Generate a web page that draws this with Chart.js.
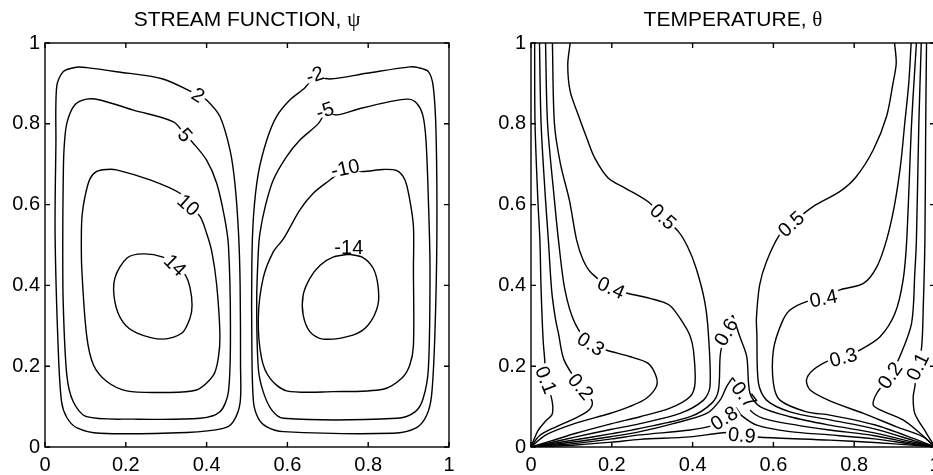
<!DOCTYPE html>
<html>
<head>
<meta charset="utf-8">
<script src="https://cdn.jsdelivr.net/npm/chart.js@4"></script>
<style>
  html, body { margin: 0; padding: 0; background: #fff; overflow: hidden; width: 933px; height: 475px; }
  canvas { position: absolute; top: 0; }
</style>
</head>
<body>
<canvas id="psi" width="466" height="475" style="left:0"></canvas>
<canvas id="theta" width="490" height="475" style="left:466px"></canvas>
<script>
// axis ticks (both panels, both axes)
const tickValues = [0, 0.2, 0.4, 0.6, 0.8, 1];
const tickLabels = ['0', '0.2', '0.4', '0.6', '0.8', '1'];

// stream function contours, [x, y] (loops start under their label)
const psiP2 = [[0.379,0.871],[0.400,0.859],[0.433,0.818],[0.458,0.735],[0.470,0.653],[0.479,0.530],[0.483,0.40],[0.484,0.20],[0.483,0.110],[0.466,0.063],[0.441,0.046],[0.351,0.036],[0.136,0.034],[0.078,0.048],[0.054,0.073],[0.041,0.112],[0.033,0.236],[0.025,0.525],[0.027,0.75],[0.029,0.892],[0.045,0.929],[0.078,0.940],[0.103,0.939],[0.177,0.929],[0.292,0.911],[0.379,0.871]];
const psiP5 = [[0.347,0.772],[0.367,0.752],[0.400,0.710],[0.425,0.653],[0.444,0.570],[0.454,0.500],[0.459,0.30],[0.454,0.137],[0.433,0.087],[0.384,0.071],[0.219,0.069],[0.103,0.075],[0.070,0.112],[0.054,0.178],[0.045,0.360],[0.044,0.525],[0.045,0.65],[0.047,0.735],[0.054,0.801],[0.074,0.847],[0.103,0.861],[0.136,0.859],[0.219,0.834],[0.318,0.805],[0.347,0.772]];
const psiP10 = [[0.355,0.599],[0.384,0.570],[0.400,0.529],[0.413,0.483],[0.425,0.401],[0.433,0.277],[0.429,0.220],[0.417,0.178],[0.375,0.141],[0.285,0.135],[0.202,0.139],[0.153,0.162],[0.120,0.203],[0.103,0.277],[0.091,0.442],[0.090,0.525],[0.092,0.575],[0.099,0.620],[0.111,0.663],[0.128,0.682],[0.153,0.687],[0.177,0.686],[0.260,0.661],[0.334,0.628],[0.355,0.599]];
const psiP14 = [[0.322,0.450],[0.292,0.470],[0.243,0.478],[0.203,0.468],[0.173,0.418],[0.173,0.359],[0.193,0.309],[0.228,0.282],[0.292,0.267],[0.339,0.282],[0.359,0.319],[0.364,0.351],[0.359,0.394],[0.347,0.426],[0.322,0.450]];
const psiN2 = [[0.668,0.921],[0.644,0.890],[0.606,0.859],[0.573,0.818],[0.549,0.760],[0.528,0.677],[0.516,0.570],[0.512,0.45],[0.512,0.25],[0.516,0.112],[0.528,0.071],[0.549,0.050],[0.590,0.038],[0.862,0.034],[0.920,0.048],[0.945,0.079],[0.957,0.129],[0.965,0.277],[0.970,0.525],[0.968,0.776],[0.961,0.892],[0.949,0.929],[0.924,0.939],[0.903,0.941],[0.796,0.925],[0.705,0.911],[0.668,0.921]];
const psiN5 = [[0.693,0.830],[0.677,0.801],[0.631,0.760],[0.598,0.719],[0.565,0.661],[0.545,0.595],[0.532,0.529],[0.528,0.483],[0.524,0.360],[0.528,0.195],[0.540,0.137],[0.561,0.092],[0.590,0.071],[0.871,0.071],[0.916,0.087],[0.936,0.120],[0.949,0.195],[0.953,0.442],[0.949,0.611],[0.943,0.760],[0.935,0.822],[0.920,0.851],[0.899,0.861],[0.854,0.855],[0.780,0.838],[0.722,0.822],[0.693,0.830]];
const psiN10 = [[0.743,0.690],[0.784,0.682],[0.837,0.687],[0.871,0.684],[0.891,0.661],[0.903,0.611],[0.912,0.545],[0.912,0.442],[0.912,0.252],[0.903,0.203],[0.883,0.170],[0.837,0.143],[0.714,0.137],[0.598,0.139],[0.557,0.170],[0.536,0.220],[0.528,0.319],[0.540,0.418],[0.565,0.483],[0.590,0.515],[0.631,0.587],[0.664,0.628],[0.705,0.661],[0.743,0.690]];
const psiN14 = [[0.752,0.477],[0.785,0.470],[0.812,0.443],[0.824,0.401],[0.824,0.351],[0.800,0.302],[0.762,0.277],[0.688,0.267],[0.656,0.285],[0.639,0.327],[0.639,0.376],[0.656,0.418],[0.681,0.450],[0.713,0.470],[0.752,0.477]];

// temperature contours, left and right branches
const theta01L = [[0.009,1.0],[0.010,0.80],[0.017,0.611],[0.022,0.512],[0.025,0.389],[0.030,0.265],[0.034,0.215],[0.037,0.166],[0.050,0.124],[0.054,0.100],[0.052,0.080],[0.037,0.065],[0.017,0.040],[0,0]];
const theta02L = [[0.021,1.0],[0.025,0.80],[0.036,0.611],[0.043,0.512],[0.051,0.389],[0.060,0.320],[0.068,0.281],[0.082,0.215],[0.123,0.149],[0.150,0.116],[0.150,0.100],[0.138,0.087],[0.109,0.071],[0.062,0.050],[0.021,0.028],[0,0]];
const theta03L = [[0.036,1.0],[0.041,0.80],[0.058,0.611],[0.068,0.512],[0.084,0.389],[0.109,0.306],[0.148,0.255],[0.186,0.240],[0.244,0.224],[0.290,0.207],[0.310,0.174],[0.310,0.149],[0.285,0.120],[0.244,0.100],[0.195,0.083],[0.111,0.059],[0.037,0.030],[0,0]];
const theta04L = [[0.053,1.0],[0.058,0.80],[0.073,0.70],[0.095,0.611],[0.113,0.512],[0.129,0.463],[0.150,0.430],[0.198,0.394],[0.241,0.380],[0.294,0.368],[0.343,0.351],[0.377,0.306],[0.393,0.277],[0.402,0.240],[0.406,0.158],[0.394,0.125],[0.344,0.096],[0.270,0.075],[0.200,0.058],[0.111,0.034],[0.050,0.015],[0,0]];
const theta05L = [[0.097,1.0],[0.091,0.946],[0.097,0.880],[0.117,0.822],[0.138,0.765],[0.158,0.715],[0.191,0.666],[0.233,0.641],[0.290,0.607],[0.327,0.570],[0.365,0.533],[0.388,0.495],[0.409,0.442],[0.430,0.360],[0.439,0.281],[0.443,0.149],[0.427,0.116],[0.369,0.083],[0.270,0.058],[0.200,0.044],[0.111,0.025],[0.050,0.011],[0,0]];
const theta06L = [[0,0],[0.050,0.008],[0.111,0.018],[0.200,0.033],[0.270,0.046],[0.394,0.075],[0.447,0.108],[0.464,0.141],[0.469,0.232],[0.483,0.284],[0.499,0.327]];
const theta06R = [[0.499,0.327],[0.517,0.273],[0.534,0.224],[0.542,0.133],[0.567,0.100],[0.641,0.075],[0.740,0.054],[0.850,0.035],[0.950,0.011],[1,0]];
const theta07L = [[0,0],[0.050,0.006],[0.111,0.013],[0.200,0.026],[0.270,0.038],[0.352,0.058],[0.435,0.083],[0.468,0.116],[0.484,0.149],[0.499,0.172]];
const theta07R = [[0.499,0.172],[0.527,0.129],[0.542,0.092],[0.575,0.071],[0.658,0.054],[0.740,0.042],[0.850,0.028],[0.950,0.008],[1,0]];
const theta08 = [[0,0],[0.050,0.004],[0.111,0.009],[0.200,0.020],[0.270,0.030],[0.394,0.042],[0.451,0.054],[0.478,0.071],[0.505,0.098],[0.520,0.079],[0.559,0.054],[0.641,0.038],[0.740,0.030],[0.850,0.020],[0.950,0.006],[1,0]];
const theta09 = [[0,0],[0.050,0.002],[0.111,0.005],[0.200,0.012],[0.270,0.019],[0.394,0.025],[0.484,0.036],[0.522,0.029],[0.567,0.024],[0.740,0.017],[0.850,0.011],[0.950,0.004],[1,0]];
const theta05R = [[1,0],[0.950,0.015],[0.850,0.045],[0.740,0.067],[0.641,0.087],[0.583,0.116],[0.563,0.158],[0.559,0.281],[0.558,0.319],[0.566,0.401],[0.583,0.459],[0.615,0.525],[0.644,0.552],[0.698,0.595],[0.764,0.632],[0.805,0.669],[0.847,0.735],[0.880,0.818],[0.896,0.900],[0.904,0.950],[0.900,1.0]];
const theta04R = [[1,0],[0.950,0.020],[0.850,0.055],[0.740,0.079],[0.682,0.087],[0.616,0.116],[0.600,0.158],[0.600,0.240],[0.620,0.306],[0.641,0.339],[0.682,0.360],[0.724,0.368],[0.765,0.389],[0.823,0.405],[0.856,0.446],[0.880,0.512],[0.900,0.600],[0.915,0.700],[0.925,0.800],[0.935,0.900],[0.941,1.0]];
const theta03R = [[1,0],[0.971,0.025],[0.905,0.050],[0.823,0.083],[0.740,0.114],[0.691,0.141],[0.682,0.166],[0.699,0.191],[0.740,0.215],[0.773,0.222],[0.814,0.240],[0.864,0.273],[0.901,0.331],[0.921,0.413],[0.930,0.512],[0.942,0.80],[0.954,1.0]];
const theta02R = [[1,0],[0.963,0.034],[0.921,0.067],[0.864,0.092],[0.847,0.104],[0.856,0.133],[0.889,0.177],[0.913,0.224],[0.942,0.306],[0.950,0.430],[0.954,0.512],[0.960,0.80],[0.966,1.0]];
const theta01R = [[1,0],[0.979,0.034],[0.950,0.083],[0.946,0.124],[0.950,0.149],[0.957,0.199],[0.967,0.248],[0.971,0.347],[0.975,0.512],[0.977,0.80],[0.979,1.0]];

// contour labels: text, position on the line, text angle in degrees
const psiLabels = {
  psiP2: ['2', 0.379, 0.871, 32], psiP5: ['5', 0.347, 0.772, 48],
  psiP10: ['10', 0.355, 0.599, 42], psiP14: ['14', 0.322, 0.450, 45],
  psiN2: ['-2', 0.668, 0.921, -18], psiN5: ['-5', 0.693, 0.833, -18],
  psiN10: ['-10', 0.743, 0.690, -12], psiN14: ['-14', 0.752, 0.493, 0]
};
const thetaLabels = {
  theta01L: ['0.1', 0.037, 0.166, 68], theta02L: ['0.2', 0.123, 0.149, 50],
  theta03L: ['0.3', 0.148, 0.255, 32], theta04L: ['0.4', 0.198, 0.394, 24],
  theta05L: ['0.5', 0.327, 0.570, 42], theta06L: ['0.6', 0.483, 0.284, -60],
  theta07R: ['0.7', 0.527, 0.129, 52], theta08: ['0.8', 0.478, 0.071, -32],
  theta09: ['0.9', 0.522, 0.029, 5], theta05R: ['0.5', 0.644, 0.552, -42],
  theta04R: ['0.4', 0.724, 0.368, -11], theta03R: ['0.3', 0.773, 0.222, -15],
  theta02R: ['0.2', 0.889, 0.177, -55], theta01R: ['0.1', 0.957, 0.199, -64]
};

const FONT = '"Liberation Sans", Arial, Helvetica, sans-serif';
const GREEK = '"Liberation Serif", "Times New Roman", serif';

function contour(points, label) {
  return {
    data: points.map(([x, y]) => ({ x, y })),
    showLine: true, pointRadius: 0, borderColor: '#000', borderWidth: 1.4,
    tension: 0.3, fill: false,
    contourLabel: label ? { text: label[0], x: label[1], y: label[2], rot: label[3] } : null
  };
}

function axis(dir, size) {
  return {
    type: 'linear', min: 0, max: 1,
    grid: { display: false, drawTicks: false },
    border: { display: false },
    afterBuildTicks: s => { s.ticks = tickValues.map(v => ({ value: v })); },
    ticks: {
      autoSkip: false, maxRotation: 0, color: '#000',
      padding: dir === 'x' ? 6 : 5,
      font: { family: FONT, size: 20 },
      callback: v => tickLabels[tickValues.indexOf(v)]
    },
    afterFit: s => { if (dir === 'x') s.height = size; else s.width = size; }
  };
}

// box, inward tick marks on all four sides, and the title
const framePlugin = {
  id: 'frame',
  afterDraw(chart, args, opts) {
    const { ctx, chartArea: a, scales: { x, y } } = chart;
    ctx.save();
    ctx.strokeStyle = '#000';
    ctx.lineWidth = 1.4;
    ctx.strokeRect(a.left, a.top, a.right - a.left, a.bottom - a.top);
    ctx.beginPath();
    tickValues.forEach(v => {
      const px = x.getPixelForValue(v), py = y.getPixelForValue(v);
      ctx.moveTo(px, a.bottom); ctx.lineTo(px, a.bottom - 5);
      ctx.moveTo(px, a.top); ctx.lineTo(px, a.top + 5);
      ctx.moveTo(a.left, py); ctx.lineTo(a.left + 5, py);
      ctx.moveTo(a.right, py); ctx.lineTo(a.right - 5, py);
    });
    ctx.stroke();

    ctx.fillStyle = '#000';
    ctx.textBaseline = 'alphabetic';
    ctx.textAlign = 'left';
    ctx.font = '21px ' + FONT;
    const w1 = ctx.measureText(opts.title).width;
    ctx.font = '21px ' + GREEK;
    const w2 = ctx.measureText(opts.greek).width;
    const x0 = (a.left + a.right) / 2 - (w1 + w2) / 2;
    ctx.font = '21px ' + FONT;
    ctx.fillText(opts.title, x0, 26);
    ctx.font = '21px ' + GREEK;
    ctx.fillText(opts.greek, x0 + w1, 26);
    ctx.restore();
  }
};

// inline contour labels, drawn right after their own line so the line gets a gap
const labelPlugin = {
  id: 'clabels',
  afterDatasetDraw(chart, args) {
    const lab = chart.data.datasets[args.index].contourLabel;
    if (!lab) return;
    const { ctx, scales: { x, y } } = chart;
    ctx.save();
    ctx.translate(x.getPixelForValue(lab.x), y.getPixelForValue(lab.y));
    ctx.rotate(lab.rot * Math.PI / 180);
    ctx.font = '20px ' + FONT;
    const w = ctx.measureText(lab.text).width;
    ctx.fillStyle = '#fff';
    ctx.fillRect(-w / 2 - 2, -6, w + 4, 12);
    ctx.fillStyle = '#000';
    ctx.textAlign = 'center';
    ctx.textBaseline = 'middle';
    ctx.fillText(lab.text, 0, 1);
    ctx.restore();
  }
};

function makeChart(id, datasets, title, greek, yWidth, padRight) {
  return new Chart(document.getElementById(id), {
    type: 'scatter',
    data: { datasets },
    options: {
      responsive: false, animation: false, events: [],
      layout: { padding: { top: 43, right: padRight, bottom: 0, left: 0 } },
      scales: { x: axis('x', 28), y: axis('y', yWidth) },
      plugins: {
        legend: { display: false },
        tooltip: { enabled: false },
        frame: { title, greek }
      }
    },
    plugins: [framePlugin, labelPlugin]
  });
}

const psiSets = { psiP2, psiP5, psiP10, psiP14, psiN2, psiN5, psiN10, psiN14 };
const thetaSets = { theta06L, theta06R, theta07L, theta07R, theta08, theta09,
  theta01L, theta02L, theta03L, theta04L, theta05L,
  theta01R, theta02R, theta03R, theta04R, theta05R };

makeChart('psi', Object.entries(psiSets).map(([k, pts]) => contour(pts, psiLabels[k])),
  'STREAM FUNCTION, ', 'ψ', 45, 17);
makeChart('theta', Object.entries(thetaSets).map(([k, pts]) => contour(pts, thetaLabels[k])),
  'TEMPERATURE, ', 'θ', 65, 21);
</script>
</body>
</html>
